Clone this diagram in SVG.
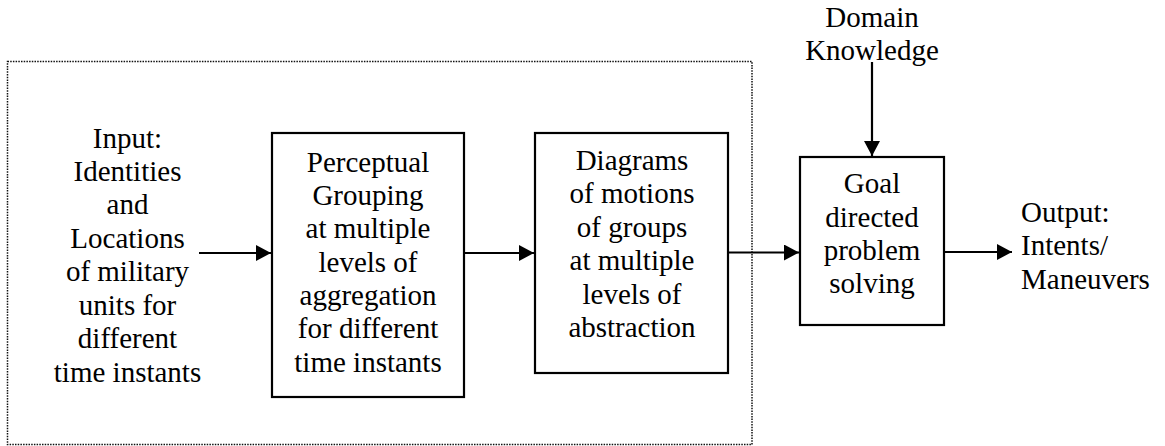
<svg xmlns="http://www.w3.org/2000/svg" width="1165" height="446" viewBox="0 0 1165 446">
<style>
text{font-family:"Liberation Serif","Times New Roman",serif;font-size:29px;fill:#000}
.c{text-anchor:middle}
.box{fill:#fff;stroke:#000;stroke-width:2.2}
.conn{stroke:#000;stroke-width:2.2;fill:none}
.frame{fill:none;stroke:#111;stroke-width:1.5;stroke-dasharray:1.5 1.2}
</style>
<defs>
<marker id="ah" markerUnits="userSpaceOnUse" markerWidth="16" markerHeight="16" refX="15" refY="8" orient="auto">
<path d="M0,0 L15,8 L0,16 Z" fill="#000"/>
</marker>
</defs>
<rect class="frame" x="7.5" y="61.5" width="744.5" height="383"/>
<g id="input">
<text class="c" x="127.5" y="147.5">Input:</text>
<text class="c" x="127.5" y="181">Identities</text>
<text class="c" x="127.5" y="214.4">and</text>
<text class="c" x="127.5" y="247.8">Locations</text>
<text class="c" x="127.5" y="281.2">of military</text>
<text class="c" x="127.5" y="314.6">units for</text>
<text class="c" x="127.5" y="348">different</text>
<text class="c" x="127.5" y="381.5">time instants</text>
</g>
<g id="perceptual">
<rect class="box" x="272" y="133" width="192" height="264"/>
<text class="c" x="368" y="171.5">Perceptual</text>
<text class="c" x="368" y="204.9">Grouping</text>
<text class="c" x="368" y="238.3">at multiple</text>
<text class="c" x="368" y="271.6">levels of</text>
<text class="c" x="368" y="305">aggregation</text>
<text class="c" x="368" y="338.4">for different</text>
<text class="c" x="368" y="371.7">time instants</text>
</g>
<g id="diagrams">
<rect class="box" x="535" y="133" width="193" height="240"/>
<text class="c" x="632" y="170">Diagrams</text>
<text class="c" x="632" y="203.4">of motions</text>
<text class="c" x="632" y="236.8">of groups</text>
<text class="c" x="632" y="270.2">at multiple</text>
<text class="c" x="632" y="303.6">levels of</text>
<text class="c" x="632" y="337">abstraction</text>
</g>
<g id="goal">
<rect class="box" x="800" y="157" width="144" height="168"/>
<text class="c" x="872" y="193.3">Goal</text>
<text class="c" x="872" y="226.7">directed</text>
<text class="c" x="872" y="260">problem</text>
<text class="c" x="872" y="293.3">solving</text>
</g>
<g id="domain">
<text class="c" x="872" y="26.7">Domain</text>
<text class="c" x="872" y="60">Knowledge</text>
</g>
<g id="output">
<text x="1021" y="222">Output:</text>
<text x="1021" y="255.4">Intents/</text>
<text x="1021" y="288.7">Maneuvers</text>
</g>
<g id="connectors">
<line class="conn" x1="199" y1="253" x2="271" y2="253" marker-end="url(#ah)"/>
<line class="conn" x1="464" y1="253" x2="534" y2="253" marker-end="url(#ah)"/>
<line class="conn" x1="728" y1="252.5" x2="799" y2="252.5" marker-end="url(#ah)"/>
<line class="conn" x1="944" y1="252" x2="1012" y2="252" marker-end="url(#ah)"/>
<line class="conn" x1="872" y1="62" x2="872" y2="156" marker-end="url(#ah)"/>
</g>
</svg>
